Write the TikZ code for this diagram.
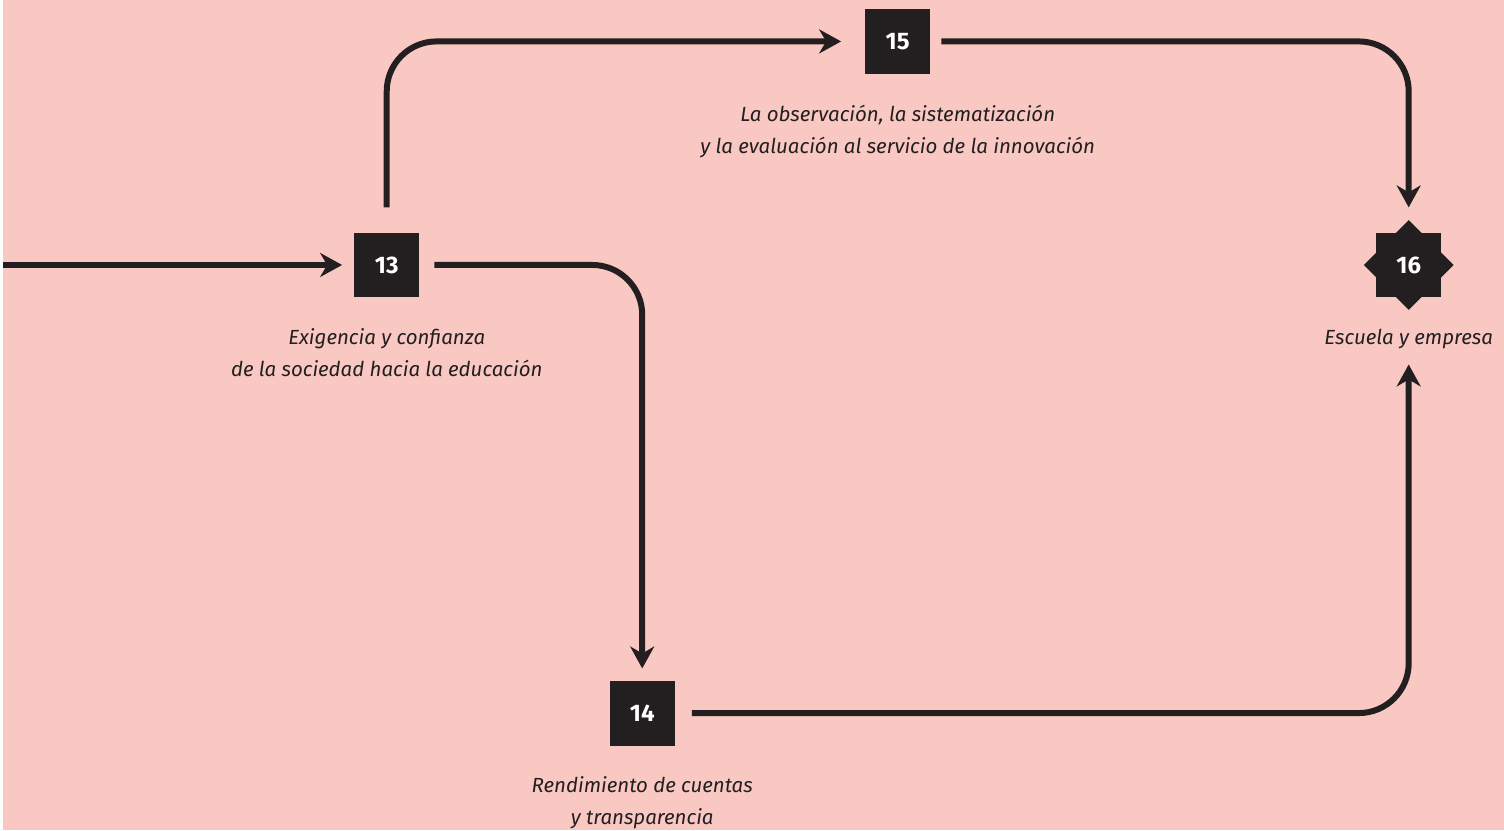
\documentclass[tikz,border=0pt]{standalone}
\usepackage{fontspec}
\setmainfont{Fira Sans}
\usetikzlibrary{arrows.meta,positioning,shapes.geometric}
\definecolor{rosa}{HTML}{F9C8C2}
\definecolor{tinta}{HTML}{231F20}
\tikzset{
	caja/.style={fill=tinta,text=white,minimum size=65,inner sep=0,font=\fontsize{24}{24}\selectfont\bfseries},
	flecha/.style={tinta,line width=6,rounded corners=50,-{Stealth[length=22,width=24,inset=7]}},
	rotulo/.style={text=tinta,align=center,inner sep=0,font=\fontsize{20.5}{32}\selectfont\itshape}
}

\begin{document}
\begin{tikzpicture}[x=1pt,y=-1pt]
	\fill[rosa] (0,0) rectangle (1504,832);
	% cajas
	\node[caja] (n13) at (384.5,265.5) {13};
	\node[caja] (n15) at (896.5,41.5) {15};
	\node[caja] (n14) at (640.5,714.5) {14};
	\node[fill=tinta,diamond,minimum size=90,inner sep=0] (e16) at (1408.5,265.5) {};
	\node[caja] (n16) at (e16) {16};
	% rotulos
	\node[rotulo,below=31pt of n13] (t13) {Exigencia y confianza\\de la sociedad hacia la educación};
	\node[rotulo,below=31pt of n15] (t15) {La observación, la sistematización\\y la evaluación al servicio de la innovación};
	\node[rotulo,below=31pt of n14] (t14) {Rendimiento de cuentas\\y transparencia};
	\node[rotulo,below=31pt of n16] (t16) {Escuela y empresa};
	% flechas
	\coordinate (ini) at (0,265.5);
	\draw[flecha] (ini) -- ([xshift=-12pt]n13.west);
	\draw[flecha] ([yshift=25pt]n13.north) |- ([xshift=-24pt]n15.west);
	\draw[flecha] ([xshift=15pt]n13.east) -| ([yshift=12pt]n14.north);
	\draw[flecha] ([xshift=11pt]n15.east) -| ([yshift=25pt]n16.north);
	\draw[flecha] ([xshift=17pt]n14.east) -| ([yshift=-67pt]n16.south);
\end{tikzpicture}
\end{document}
